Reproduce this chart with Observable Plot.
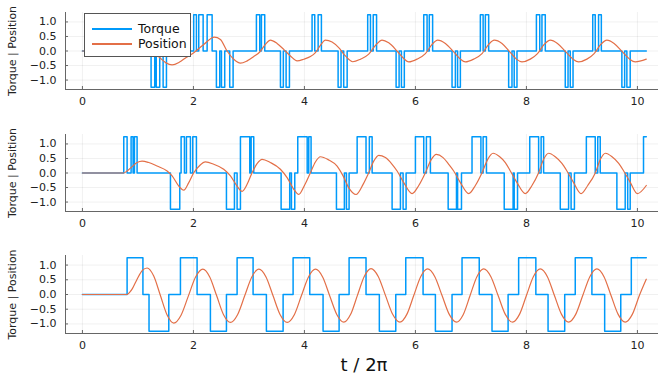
<!DOCTYPE html>
<html><head><meta charset="utf-8">
<script src="https://cdn.jsdelivr.net/npm/d3@7"></script>
<script src="https://cdn.jsdelivr.net/npm/@observablehq/plot@0.6"></script>
<style>
body{margin:0;background:#fff;}
#chart{position:relative;width:658px;height:380px;font-family:"DejaVu Sans",sans-serif;overflow:hidden;}
#chart svg{display:block;}
.legend{position:absolute;left:84px;top:13px;width:107px;height:44px;border:1px solid #555;background:#fff;box-sizing:border-box;}
.row{position:absolute;left:0;height:14px;display:flex;align-items:center;}
.sw{width:40px;height:2px;margin-left:7px;margin-right:6px;}
.lt{font-size:12.5px;color:#111;line-height:14px;}
</style></head>
<body><div id="chart"></div>
<script>
const xTicks = [0, 2, 4, 6, 8, 10];
const yTicks = [-1, -0.5, 0, 0.5, 1];
const seriesNames = ["Torque", "Position"];
const yLabel = "Torque | Position";
const xLabel = "t / 2π";

// Torque change points [t, level] (step-after)
const torque1 = [[0,0],
[0.88,1.25],[0.94,0],[0.99,1.25],[1.04,0],
[1.237,-1.25],[1.303,0],[1.33,-1.25],[1.393,0],[1.454,-1.25],[1.514,0],
[2.005,1.25],[2.054,0],[2.096,1.25],[2.175,0],[2.247,1.25],[2.337,0],
[2.414,-1.25],[2.474,0],[2.505,-1.25],[2.564,0],[2.654,-1.25],[2.715,0],
[3.135,1.25],[3.195,0],[3.225,1.25],[3.285,0],
[3.568,-1.25],[3.62,0],[3.67,-1.25],[3.73,0],
[4.138,1.25],[4.186,0],[4.247,1.25],[4.306,0],
[4.607,-1.25],[4.66,0],[4.708,-1.25],[4.77,0],
[5.14,1.25],[5.19,0],[5.24,1.25],[5.30,0],
[5.652,-1.25],[5.706,0],[5.748,-1.25],[5.80,0],
[6.15,1.25],[6.21,0],[6.25,1.25],[6.31,0],
[6.66,-1.25],[6.72,0],[6.76,-1.25],[6.81,0],
[7.17,1.25],[7.22,0],[7.26,1.25],[7.32,0],
[7.68,-1.25],[7.74,0],[7.78,-1.25],[7.83,0],
[8.18,1.25],[8.24,0],[8.28,1.25],[8.34,0],
[8.70,-1.25],[8.75,0],[8.79,-1.25],[8.84,0],
[9.195,1.25],[9.24,0],[9.30,1.25],[9.35,0],
[9.72,-1.25],[9.77,0],[9.81,-1.25],[9.87,0],
[10.16,0]];

const position1 = [[0,0],[0.88,0],[0.95,0.02],[1.05,0.1],[1.15,0.12],[1.25,0.03],[1.405,-0.25],[1.5,-0.4],[1.615,-0.48],[1.75,-0.38],[1.87,-0.22],
[2.006,-0.057],[2.186,0.227],[2.378,0.477],[2.486,0.398],[2.606,0],[2.727,-0.284],[2.847,-0.42],[2.967,-0.34],[3.087,-0.193],[3.195,-0.034],
[3.297,0.227],[3.387,0.375],[3.507,0.26],[3.627,0.057],[3.748,-0.17],[3.868,-0.34],[3.988,-0.284],[4.108,-0.193],[4.198,-0.057],[4.288,0.193],
[4.378,0.375],[4.498,0.307],[4.618,0.114],[4.738,-0.17],[4.87,-0.37],[5.009,-0.284],[5.159,-0.11],[5.279,0.19],[5.399,0.375],[5.519,0.28],
[5.669,0],[5.79,-0.26],[5.88,-0.375],[6.03,-0.28],[6.18,-0.09],[6.3,0.227],[6.4,0.375],[6.54,0.26],[6.69,-0.03],[6.81,-0.28],[6.9,-0.375],
[7.05,-0.28],[7.2,-0.09],[7.32,0.227],[7.42,0.375],[7.56,0.26],[7.70,-0.03],[7.82,-0.28],[7.92,-0.375],[8.07,-0.28],[8.2,-0.09],[8.32,0.227],
[8.43,0.375],[8.56,0.26],[8.71,-0.03],[8.84,-0.28],[8.94,-0.375],[9.09,-0.28],[9.22,-0.09],[9.34,0.227],[9.45,0.375],[9.58,0.26],[9.73,-0.03],
[9.86,-0.28],[9.96,-0.375],[10.16,-0.28]];

const torque2 = [[0,0],
[0.745,1.25],[0.805,0],[0.877,1.25],[0.913,0],[0.937,1.25],[0.985,0],
[1.586,-1.25],[1.754,0],[1.778,1.25],[1.838,0],[1.874,1.25],[1.946,0],[1.988,1.25],[2.054,0],
[2.595,-1.25],[2.739,0],[2.787,-1.25],[2.847,1.25],[3.015,0],[3.04,1.25],[3.087,0],
[3.58,-1.25],[3.735,0],[3.766,-1.25],[3.826,0],[3.88,1.25],[4.05,0],[4.078,1.25],[4.12,0],
[4.577,-1.25],[4.72,0],[4.757,-1.25],[4.805,0],[4.95,1.25],[5.11,0],[5.17,1.25],[5.22,0],
[5.58,-1.25],[5.73,0],[5.778,-1.25],[5.832,0],[6.0,1.25],[6.15,0],[6.198,1.25],[6.27,0],
[6.59,-1.25],[6.74,0],[6.76,-1.25],[6.83,0],[7.02,1.25],[7.18,0],[7.22,1.25],[7.28,0],
[7.60,-1.25],[7.76,0],[7.78,-1.25],[7.84,0],[8.06,1.25],[8.22,0],[8.265,1.25],[8.31,0],
[8.61,-1.25],[8.76,0],[8.805,-1.25],[8.865,0],[9.08,1.25],[9.24,0],[9.285,1.25],[9.33,0],
[9.63,-1.25],[9.78,0],[9.825,-1.25],[9.87,0],[10.11,1.25],[10.16,1.25]];

const position2 = [[0,0],[0.745,0],[0.805,0.07],[0.895,0.22],[0.985,0.36],[1.075,0.41],[1.195,0.36],[1.345,0.24],[1.526,0.07],[1.616,-0.1],
[1.736,-0.45],[1.826,-0.59],[1.916,-0.33],[2.006,0.01],[2.114,0.26],[2.216,0.38],[2.366,0.3],[2.546,0.13],[2.667,-0.1],[2.787,-0.45],
[2.877,-0.63],[2.967,-0.39],[3.057,0.01],[3.147,0.32],[3.237,0.47],[3.387,0.36],[3.567,0.13],[3.688,-0.16],[3.808,-0.56],[3.898,-0.74],
[4.0,-0.43],[4.108,0.01],[4.198,0.38],[4.288,0.56],[4.438,0.45],[4.589,0.24],[4.697,-0.1],[4.8,-0.51],[4.93,-0.74],[5.057,-0.39],
[5.159,0.01],[5.249,0.41],[5.339,0.61],[5.459,0.53],[5.58,0.3],[5.67,0.07],[5.79,-0.33],[5.94,-0.71],[6.06,-0.43],[6.18,0.01],[6.282,0.45],
[6.378,0.64],[6.498,0.53],[6.6,0.3],[6.69,0.07],[6.81,-0.33],[6.96,-0.71],[7.08,-0.43],[7.2,0.01],[7.303,0.47],[7.399,0.68],[7.519,0.56],
[7.62,0.36],[7.71,0.07],[7.83,-0.33],[7.98,-0.71],[8.1,-0.43],[8.22,0.01],[8.31,0.47],[8.4,0.68],[8.52,0.56],[8.64,0.33],[8.73,0.07],
[8.85,-0.33],[8.985,-0.71],[9.105,-0.43],[9.243,0.01],[9.333,0.47],[9.423,0.68],[9.543,0.56],[9.663,0.33],[9.753,0.07],[9.874,-0.33],
[10.0,-0.71],[10.16,-0.43]];

const torque3 = [[0,0],[0.805,1.25],[1.09,0],[1.20,-1.25],[1.556,0],[1.766,1.25],[2.066,0],[2.306,-1.25],[2.595,0],[2.787,1.25],[3.075,0],
[3.315,-1.25],[3.616,0],[3.796,1.25],[4.096,0],[4.336,-1.25],[4.625,0],[4.805,1.25],[5.11,0],[5.35,-1.25],[5.646,0],[5.826,1.25],[6.138,0],
[6.36,-1.25],[6.66,0],[6.84,1.25],[7.15,0],[7.38,-1.25],[7.67,0],[7.86,1.25],[8.17,0],[8.39,-1.25],[8.69,0],[8.88,1.25],[9.18,0],
[9.41,-1.25],[9.70,0],[9.89,1.25],[10.16,1.25]];

const position3 = [[0,0],[0.805,0],[0.85,0.07],[0.9,0.2],[0.985,0.52],[1.08,0.82],[1.165,0.9],[1.285,0.627],[1.405,-0.035],[1.526,-0.697],
[1.646,-0.97],[1.777,-0.703],[1.908,-0.055],[2.039,0.593],[2.17,0.86],[2.294,0.596],[2.419,-0.045],[2.543,-0.686],[2.667,-0.95],
[2.795,-0.686],[2.924,-0.045],[3.052,0.596],[3.18,0.86],[3.308,0.596],[3.435,-0.045],[3.563,-0.686],[3.69,-0.95],[3.818,-0.686],
[3.945,-0.045],[4.073,0.596],[4.2,0.86],[4.328,0.597],[4.455,-0.04],[4.583,-0.677],[4.71,-0.94],[4.833,-0.674],[4.955,-0.03],
[5.078,0.614],[5.2,0.88],[5.33,0.614],[5.46,-0.03],[5.59,-0.674],[5.72,-0.94],[5.845,-0.676],[5.97,-0.035],[6.095,0.606],[6.22,0.87],
[6.35,0.606],[6.48,-0.035],[6.61,-0.676],[6.74,-0.94],[6.863,-0.676],[6.985,-0.035],[7.108,0.606],[7.23,0.87],[7.36,0.606],[7.49,-0.035],
[7.62,-0.676],[7.75,-0.94],[7.875,-0.676],[8.0,-0.035],[8.125,0.606],[8.25,0.87],[8.378,0.606],[8.505,-0.035],[8.633,-0.676],[8.76,-0.94],
[8.888,-0.676],[9.015,-0.035],[9.143,0.606],[9.27,0.87],[9.398,0.606],[9.525,-0.035],[9.653,-0.676],[9.78,-0.94],[9.908,-0.676],
[10.035,-0.035],[10.16,0.52]];

const colors = {Torque: "#009AFA", Position: "#E36F47"};
const fmt = d => (d < 0 ? "\u2212" : "") + Math.abs(d).toFixed(1);

function panel(torque, position, opts) {
  const marks = [
    Plot.gridX(xTicks, {stroke: "#000", strokeOpacity: 0.1, strokeWidth: 0.6}),
    Plot.gridY(yTicks, {stroke: "#000", strokeOpacity: 0.1, strokeWidth: 0.6}),
    Plot.frame({anchor: "left", stroke: "#666"}),
    Plot.frame({anchor: "bottom", stroke: "#666"}),
    Plot.axisX(xTicks, {tickSize: 0, tickPadding: 8, fill: "#222", fontSize: 11}),
    Plot.axisY(yTicks, {tickSize: 0, tickPadding: 9, tickFormat: fmt, fill: "#222", fontSize: 11}),
    Plot.tickX(xTicks, {x: d => d, stroke: "#666", insetTop: opts.plotH - 3}),
    Plot.tickY(yTicks, {y: d => d, stroke: "#666", insetRight: 593 - 3}),
    Plot.text([yLabel], {text: d => d, frameAnchor: "left", dx: -53, rotate: -90, textAnchor: "middle", lineAnchor: "middle", fontSize: 11, fill: "#222"}),
    Plot.line(torque, {x: d => d[0], y: d => d[1], stroke: colors.Torque, strokeWidth: 1.5, curve: "step-after"}),
    Plot.line(position, {x: d => d[0], y: d => d[1], stroke: colors.Position, strokeWidth: 1.2, curve: "monotone-x"})
  ];
  if (opts.xlabel) {
    marks.push(Plot.text([xLabel], {text: d => d, frameAnchor: "bottom", dy: 32, dx: 2, lineAnchor: "middle", fontSize: 18, fill: "#111"}));
  }
  return Plot.plot({
    width: 658, height: opts.height,
    marginLeft: 65, marginRight: 0, marginTop: opts.mt, marginBottom: opts.mb,
    x: {domain: [-0.305, 10.38], axis: null},
    y: {domain: [-1.325, 1.325], axis: null},
    style: {fontFamily: "DejaVu Sans, sans-serif", fontSize: "11px", background: "#fff", overflow: "visible"},
    marks
  });
}

const chart = document.getElementById("chart");
chart.appendChild(panel(torque1, position1, {height: 122, mt: 12, mb: 33, plotH: 77}));
chart.appendChild(panel(torque2, position2, {height: 122, mt: 12, mb: 33, plotH: 77}));
chart.appendChild(panel(torque3, position3, {height: 136, mt: 11, mb: 47, plotH: 78, xlabel: true}));

// legend
const lg = document.createElement("div");
lg.className = "legend";
seriesNames.forEach((name, i) => {
  const row = document.createElement("div");
  row.className = "row";
  row.style.top = (8 + i * 14.5) + "px";
  const sw = document.createElement("div");
  sw.className = "sw";
  sw.style.background = colors[name];
  const t = document.createElement("span");
  t.className = "lt";
  t.textContent = name;
  row.appendChild(sw); row.appendChild(t);
  lg.appendChild(row);
});
chart.appendChild(lg);
</script>
</body></html>
